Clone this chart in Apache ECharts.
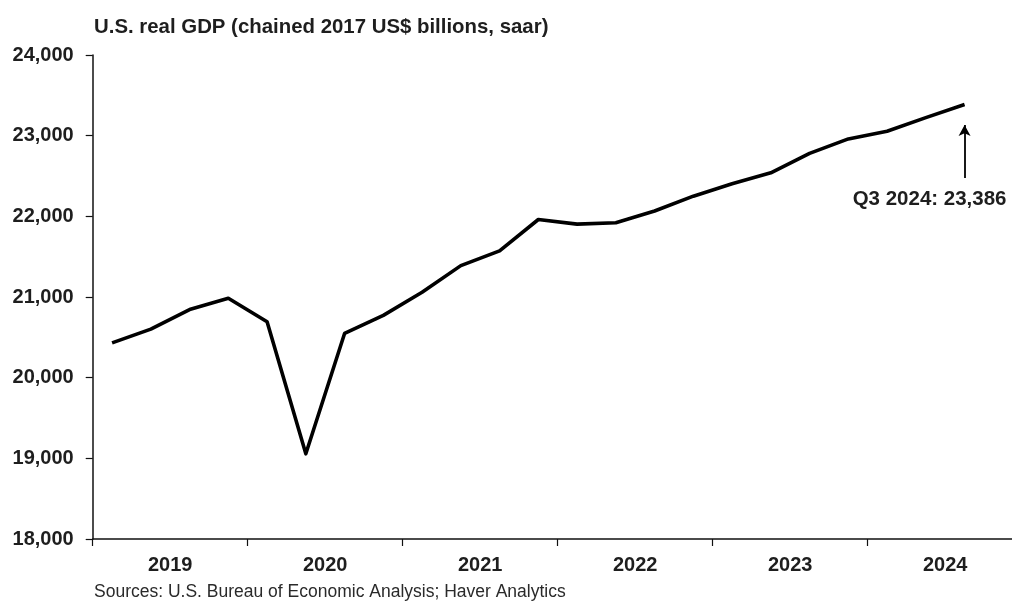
<!DOCTYPE html>
<html>
<head>
<meta charset="utf-8">
<script src="https://cdn.jsdelivr.net/npm/echarts@6/dist/echarts.min.js"></script>
<style>
  html, body { margin: 0; padding: 0; background: #fff; }
  #chart { width: 1012px; height: 608px; }
</style>
</head>
<body>
<div id="chart"></div>
<script>
// ---- data ----
const quarters = [
  '2019Q1','2019Q2','2019Q3','2019Q4',
  '2020Q1','2020Q2','2020Q3','2020Q4',
  '2021Q1','2021Q2','2021Q3','2021Q4',
  '2022Q1','2022Q2','2022Q3','2022Q4',
  '2023Q1','2023Q2','2023Q3','2023Q4',
  '2024Q1','2024Q2','2024Q3','2024Q4'
];
const realGDP = [
  20431, 20602, 20844, 20985,
  20694, 19056, 20548, 20772,
  21058, 21389, 21572, 21961,
  21903, 21920, 22066, 22250,
  22403, 22539, 22781, 22960,
  23054, 23224, 23386, null
];
const yearLabels = ['2019', '2020', '2021', '2022', '2023', '2024'];
const yTicks = { min: 18000, max: 24000, step: 1000 };
const titleText = 'U.S. real GDP (chained 2017 US$ billions, saar)';
const sourceText = 'Sources: U.S. Bureau of Economic Analysis; Haver Analytics';
const annotation = { quarterIndex: 22, label: 'Q3 2024', arrowFrom: 22475, arrowTo: 23132, textAt: 22215 };

// ---- chart ----
const FONT = 'Liberation Sans, Arial, sans-serif';
const TXT = '#1e1e1e';
const chart = echarts.init(document.getElementById('chart'), null, { renderer: 'canvas' });
const fmt = v => v.toLocaleString('en-US');

const lastQ = quarters[annotation.quarterIndex];
const lastV = realGDP[annotation.quarterIndex];

chart.setOption({
  animation: false,
  backgroundColor: '#fff',
  title: {
    text: titleText,
    left: 89, top: 12,
    textStyle: { fontFamily: FONT, fontSize: 20.4, fontWeight: 'bold', color: TXT }
  },
  graphic: [{
    type: 'text', left: 94, top: 583,
    style: { text: sourceText, font: '17.5px ' + FONT, fill: '#2a2a2a' }
  }],
  grid: { left: 92.7, top: 55, height: 484, width: 930, outerBoundsMode: 'none', containLabel: false },
  xAxis: [
    {
      type: 'category', data: quarters, boundaryGap: true, show: false
    },
    {
      type: 'category', data: yearLabels, boundaryGap: true, position: 'bottom',
      axisLine: { show: true, lineStyle: { color: '#111', width: 1.5 } },
      axisTick: { show: true, length: 7, lineStyle: { color: '#111', width: 1.2 } },
      axisLabel: { margin: 16, fontFamily: FONT, fontSize: 20, fontWeight: 'bold', color: TXT },
      splitLine: { show: false }
    }
  ],
  yAxis: {
    type: 'value', min: yTicks.min, max: yTicks.max, interval: yTicks.step,
    axisLine: { show: true, lineStyle: { color: '#111', width: 1.5 } },
    axisTick: { show: true, length: 7, lineStyle: { color: '#111', width: 1.2 } },
    axisLabel: { margin: 19, fontFamily: FONT, fontSize: 20, fontWeight: 'bold', color: TXT, formatter: fmt },
    splitLine: { show: false }
  },
  series: [{
    type: 'line',
    xAxisIndex: 0,
    data: realGDP,
    symbol: 'none',
    lineStyle: { color: '#000', width: 3.6, join: 'round' },
    markLine: {
      silent: true,
      symbol: ['none', 'arrow'],
      symbolSize: [9, 11],
      label: { show: false },
      lineStyle: { color: '#000', width: 1.8, type: 'solid' },
      data: [[
        { coord: [lastQ, annotation.arrowFrom] },
        { coord: [lastQ, annotation.arrowTo] }
      ]]
    },
    markPoint: {
      silent: true,
      symbol: 'circle', symbolSize: 0,
      data: [{
        coord: [lastQ, annotation.textAt],
        label: {
          show: true, position: 'inside', offset: [-35, 0],
          formatter: annotation.label + ': ' + fmt(lastV),
          fontFamily: FONT, fontSize: 20.5, fontWeight: 'bold', color: TXT
        }
      }]
    }
  }]
});
</script>
</body>
</html>
